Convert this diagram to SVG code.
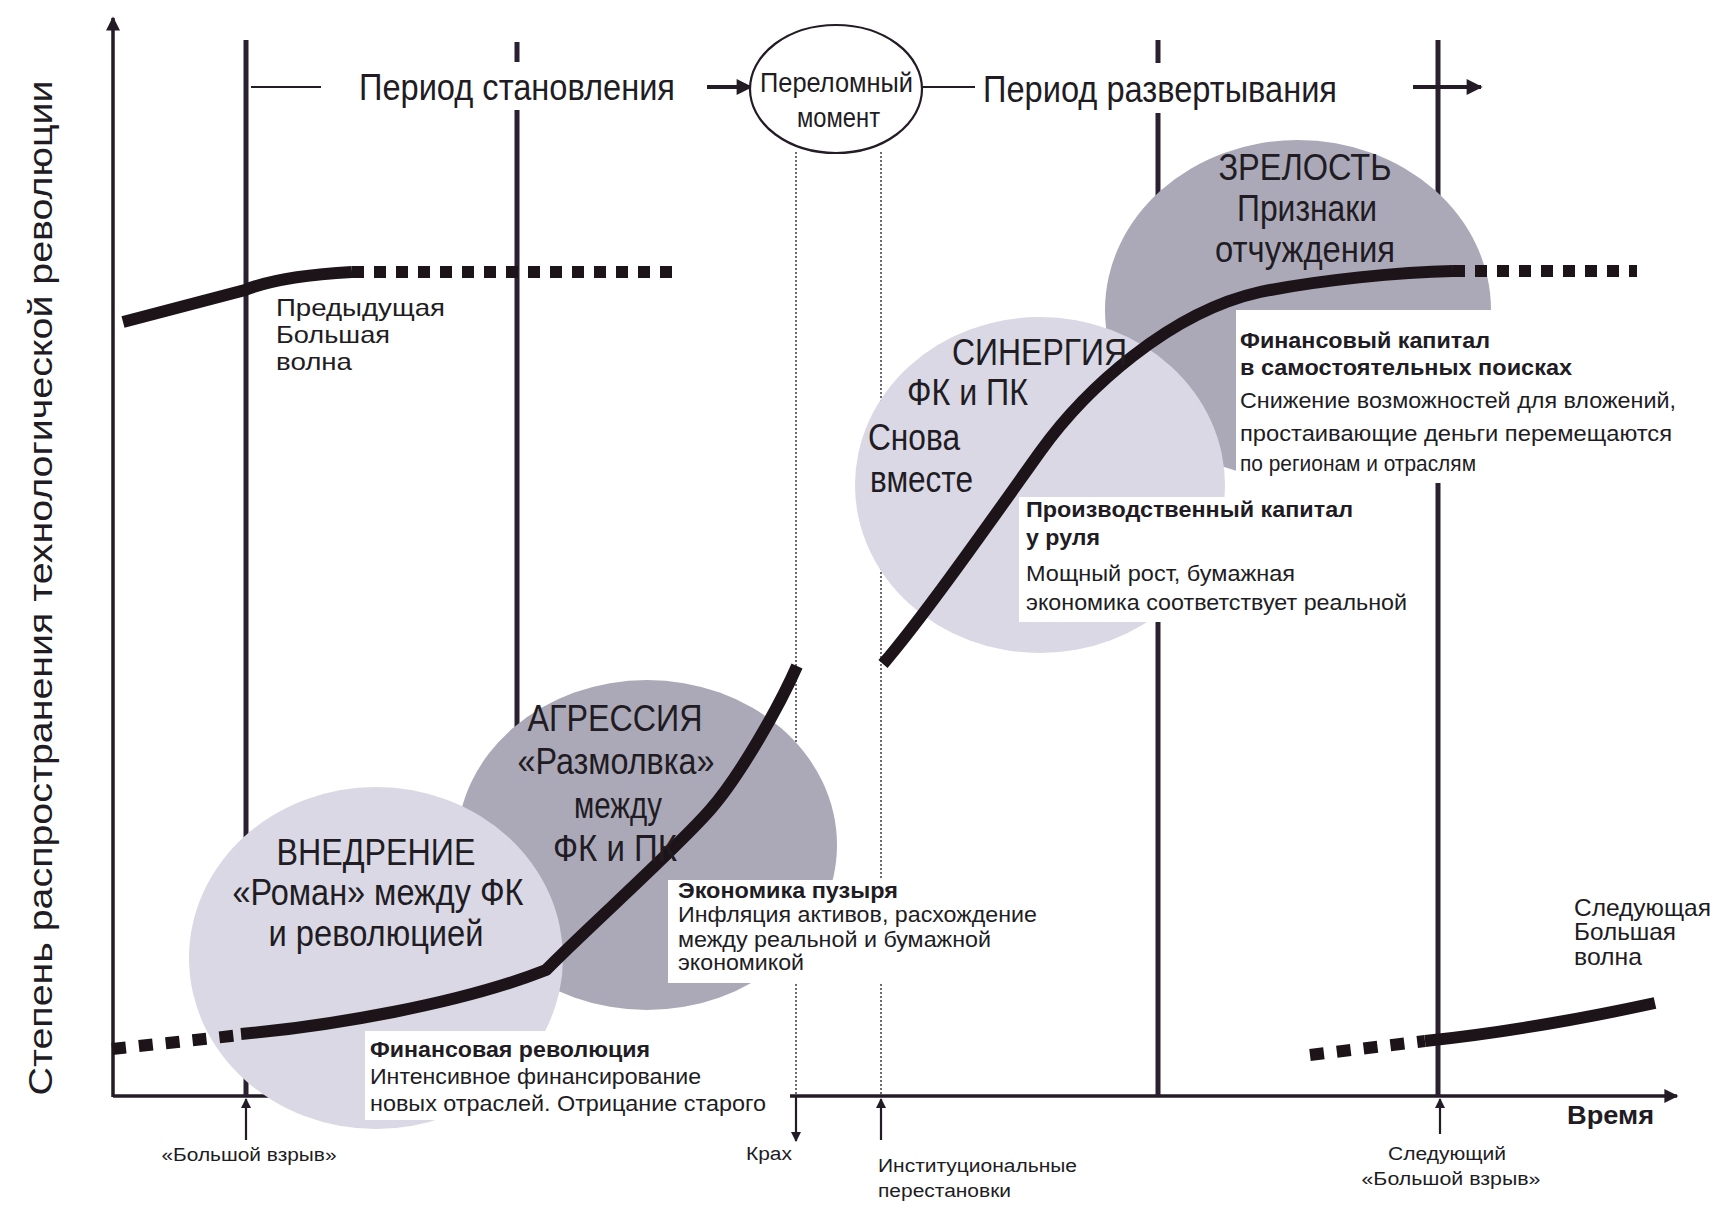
<svg xmlns="http://www.w3.org/2000/svg" width="1720" height="1211" viewBox="0 0 1720 1211">
<defs>
<marker id="ah" viewBox="0 0 10 10" refX="9" refY="5" markerWidth="18" markerHeight="14" markerUnits="userSpaceOnUse" orient="auto"><path d="M0,0 L10,5 L0,10 z" fill="#231b25"/></marker>
<marker id="ahs" viewBox="0 0 10 10" refX="9" refY="5" markerWidth="12" markerHeight="10" markerUnits="userSpaceOnUse" orient="auto"><path d="M0,0 L10,5 L0,10 z" fill="#231b25"/></marker>
<marker id="ahb" viewBox="0 0 10 10" refX="9" refY="5" markerWidth="18" markerHeight="16" markerUnits="userSpaceOnUse" orient="auto"><path d="M0,0 L10,5 L0,10 z" fill="#231b25"/></marker>
</defs>
<style>
text{font-family:"Liberation Sans Narrow","Liberation Sans",Arial,sans-serif;fill:#211c23}
.big{font-size:37px;text-anchor:middle}
.bigs{font-size:37px}
.hdr{font-size:36px}
.pm{font-size:27px}
.sm{font-size:22px}
.smb{font-size:22px;font-weight:bold}
.tiny{font-size:18px}
.ax{stroke:#231b25;stroke-width:3.5;fill:none}
.vl{stroke:#2a2030;stroke-width:5;fill:none}
.dot{stroke:#5e5a62;stroke-width:1.8;stroke-dasharray:2 2;fill:none}
.thin{stroke:#231b25;stroke-width:2.2;fill:none}
.arr{stroke:#231b25;stroke-width:4;fill:none}
.crv{stroke:#1d1419;stroke-width:12;fill:none}
.dash{stroke:#1d1419;stroke-width:12;fill:none;stroke-dasharray:12 10}
.lite{fill:#d9d8e4}
.dark{fill:#aba9b7}
.box{fill:#ffffff}
</style>
<rect width="1720" height="1211" fill="#ffffff"/>

<g id="connectors">
<line class="ax" x1="113" y1="1097" x2="113" y2="18" marker-end="url(#ah)"/>
<line class="ax" x1="113" y1="1096" x2="1677" y2="1096" marker-end="url(#ah)"/>
<line class="vl" x1="246" y1="40" x2="246" y2="1096"/>
<line class="vl" x1="517" y1="42" x2="517" y2="62"/>
<line class="vl" x1="517" y1="110" x2="517" y2="1096"/>
<line class="vl" x1="1158" y1="40" x2="1158" y2="63"/>
<line class="vl" x1="1158" y1="113" x2="1158" y2="1096"/>
<line class="vl" x1="1438" y1="40" x2="1438" y2="1096"/>
<line class="dot" x1="796" y1="152" x2="796" y2="1096"/>
<line class="dot" x1="881" y1="152" x2="881" y2="1096"/>
<line class="thin" x1="251" y1="87" x2="321" y2="87"/>
<line class="arr" x1="707" y1="87" x2="751" y2="87" marker-end="url(#ahb)"/>
<line class="thin" x1="923" y1="87" x2="975" y2="87"/>
<line class="arr" x1="1413" y1="87" x2="1481" y2="87" marker-end="url(#ahb)"/>
<line class="thin" x1="246" y1="1140" x2="246" y2="1099" marker-end="url(#ahs)"/>
<line class="thin" x1="796" y1="1097" x2="796" y2="1141" marker-end="url(#ahs)"/>
<line class="thin" x1="881" y1="1140" x2="881" y2="1099" marker-end="url(#ahs)"/>
<line class="thin" x1="1440" y1="1134" x2="1440" y2="1099" marker-end="url(#ahs)"/>
</g>

<g id="turning-point">
<ellipse cx="836" cy="89" rx="86" ry="64" fill="#ffffff" stroke="#231b25" stroke-width="2.2"/>
<text class="pm" x="760" y="92" textLength="153" lengthAdjust="spacingAndGlyphs">Переломный</text>
<text class="pm" x="797" y="127" textLength="83" lengthAdjust="spacingAndGlyphs">момент</text>
</g>

<g id="headers">
<text class="hdr" x="359" y="100" textLength="316" lengthAdjust="spacingAndGlyphs">Период становления</text>
<text class="hdr" x="983" y="102" textLength="354" lengthAdjust="spacingAndGlyphs">Период развертывания</text>
<text transform="translate(52,588) rotate(-90)" style="font-family:'Liberation Sans',Arial,sans-serif;font-size:33px;text-anchor:middle" textLength="1015" lengthAdjust="spacingAndGlyphs">Степень распространения технологической революции</text>
</g>

<g id="phase-aggression"><ellipse class="dark" cx="647" cy="845" rx="190" ry="165"/></g>
<g id="phase-irruption"><ellipse class="lite" cx="376" cy="958" rx="187" ry="171"/></g>
<g id="phase-maturity"><ellipse class="dark" cx="1298" cy="310" rx="193" ry="170"/></g>
<g id="phase-synergy"><ellipse class="lite" cx="1040" cy="485" rx="185" ry="168"/></g>

<g id="box-finrev">
<rect class="box" x="365" y="1031" width="425" height="89"/>
<text class="smb" x="370" y="1057" textLength="280" lengthAdjust="spacingAndGlyphs">Финансовая революция</text>
<text class="sm" x="370" y="1084" textLength="331" lengthAdjust="spacingAndGlyphs">Интенсивное финансирование</text>
<text class="sm" x="370" y="1111" textLength="396" lengthAdjust="spacingAndGlyphs">новых отраслей. Отрицание старого</text>
</g>
<g id="box-bubble">
<rect class="box" x="668" y="880" width="380" height="103"/>
<text class="smb" x="678" y="898" textLength="220" lengthAdjust="spacingAndGlyphs">Экономика пузыря</text>
<text class="sm" x="678" y="922" textLength="359" lengthAdjust="spacingAndGlyphs">Инфляция активов, расхождение</text>
<text class="sm" x="678" y="947" textLength="313" lengthAdjust="spacingAndGlyphs">между реальной и бумажной</text>
<text class="sm" x="678" y="970" textLength="126" lengthAdjust="spacingAndGlyphs">экономикой</text>
</g>
<g id="box-prodcap">
<rect class="box" x="1019" y="497" width="392" height="125"/>
<text class="smb" x="1026" y="517" textLength="327" lengthAdjust="spacingAndGlyphs">Производственный капитал</text>
<text class="smb" x="1026" y="545" textLength="74" lengthAdjust="spacingAndGlyphs">у руля</text>
<text class="sm" x="1026" y="581" textLength="269" lengthAdjust="spacingAndGlyphs">Мощный рост, бумажная</text>
<text class="sm" x="1026" y="610" textLength="381" lengthAdjust="spacingAndGlyphs">экономика соответствует реальной</text>
</g>
<g id="box-fincap">
<rect class="box" x="1236" y="310" width="470" height="173"/>
<text class="smb" x="1240" y="348" textLength="250" lengthAdjust="spacingAndGlyphs">Финансовый капитал</text>
<text class="smb" x="1240" y="375" textLength="332" lengthAdjust="spacingAndGlyphs">в самостоятельных поисках</text>
<text class="sm" x="1240" y="408" textLength="436" lengthAdjust="spacingAndGlyphs">Снижение возможностей для вложений,</text>
<text class="sm" x="1240" y="441" textLength="432" lengthAdjust="spacingAndGlyphs">простаивающие деньги перемещаются</text>
<text class="sm" x="1240" y="471" textLength="236" lengthAdjust="spacingAndGlyphs">по регионам и отраслям</text>
</g>

<g id="curves">
<path class="crv" d="M123,322 L245,290 Q280,276 352,272"/>
<line class="dash" x1="352" y1="272" x2="675" y2="272"/>
<line class="dash" x1="112" y1="1049" x2="241" y2="1035" style="stroke-dasharray:14 13"/>
<path class="crv" d="M241,1034 C330,1026 460,1004 546,970 C585,930 675,850 710,810 C740,776 780,705 797,666"/>
<path class="crv" d="M883,664 C925,615 995,515 1040,452 C1085,389 1170,312 1260,292 C1320,280 1400,272 1453,271"/>
<line class="dash" x1="1453" y1="271" x2="1637" y2="271"/>
<line class="dash" x1="1310" y1="1055" x2="1425" y2="1041" style="stroke-dasharray:14 13"/>
<path class="crv" d="M1425,1041 Q1530,1030 1655,1003" stroke-width="14"/>
</g>

<g id="labels-phases">
<text class="big" x="376" y="865" textLength="199" lengthAdjust="spacingAndGlyphs">ВНЕДРЕНИЕ</text>
<text class="big" x="378" y="905" textLength="291" lengthAdjust="spacingAndGlyphs">«Роман» между ФК</text>
<text class="big" x="376" y="946" textLength="215" lengthAdjust="spacingAndGlyphs">и революцией</text>
<text class="big" x="615" y="731" textLength="175" lengthAdjust="spacingAndGlyphs">АГРЕССИЯ</text>
<text class="big" x="616" y="774" textLength="197" lengthAdjust="spacingAndGlyphs">«Размолвка»</text>
<text class="big" x="618" y="818" textLength="88" lengthAdjust="spacingAndGlyphs">между</text>
<text class="big" x="615" y="861" textLength="124" lengthAdjust="spacingAndGlyphs">ФК и ПК</text>
<text class="bigs" x="952" y="365" textLength="175" lengthAdjust="spacingAndGlyphs">СИНЕРГИЯ</text>
<text class="bigs" x="907" y="405" textLength="121" lengthAdjust="spacingAndGlyphs">ФК и ПК</text>
<text class="bigs" x="868" y="450" textLength="92" lengthAdjust="spacingAndGlyphs">Снова</text>
<text class="bigs" x="870" y="492" textLength="103" lengthAdjust="spacingAndGlyphs">вместе</text>
<text class="big" x="1305" y="180" textLength="173" lengthAdjust="spacingAndGlyphs">ЗРЕЛОСТЬ</text>
<text class="big" x="1307" y="221" textLength="140" lengthAdjust="spacingAndGlyphs">Признаки</text>
<text class="big" x="1305" y="262" textLength="180" lengthAdjust="spacingAndGlyphs">отчуждения</text>
</g>

<g id="labels-other">
<text class="sm" x="276" y="316" textLength="169" lengthAdjust="spacingAndGlyphs" style="font-size:24px">Предыдущая</text>
<text class="sm" x="276" y="343" textLength="114" lengthAdjust="spacingAndGlyphs" style="font-size:24px">Большая</text>
<text class="sm" x="276" y="370" textLength="76" lengthAdjust="spacingAndGlyphs" style="font-size:24px">волна</text>
<text class="sm" x="1574" y="916" textLength="137" lengthAdjust="spacingAndGlyphs" style="font-size:24px">Следующая</text>
<text class="sm" x="1574" y="940" textLength="102" lengthAdjust="spacingAndGlyphs" style="font-size:24px">Большая</text>
<text class="sm" x="1574" y="965" textLength="68" lengthAdjust="spacingAndGlyphs" style="font-size:24px">волна</text>
<text class="smb" x="1567" y="1124" textLength="87" lengthAdjust="spacingAndGlyphs" style="font-size:26px">Время</text>
<text class="tiny" x="249" y="1161" text-anchor="middle" textLength="175" lengthAdjust="spacingAndGlyphs">«Большой взрыв»</text>
<text class="tiny" x="746" y="1160" textLength="46" lengthAdjust="spacingAndGlyphs">Крах</text>
<text class="tiny" x="878" y="1172" textLength="199" lengthAdjust="spacingAndGlyphs">Институциональные</text>
<text class="tiny" x="878" y="1197" textLength="133" lengthAdjust="spacingAndGlyphs">перестановки</text>
<text class="tiny" x="1447" y="1160" text-anchor="middle" textLength="118" lengthAdjust="spacingAndGlyphs">Следующий</text>
<text class="tiny" x="1451" y="1185" text-anchor="middle" textLength="179" lengthAdjust="spacingAndGlyphs">«Большой взрыв»</text>
</g>
</svg>
